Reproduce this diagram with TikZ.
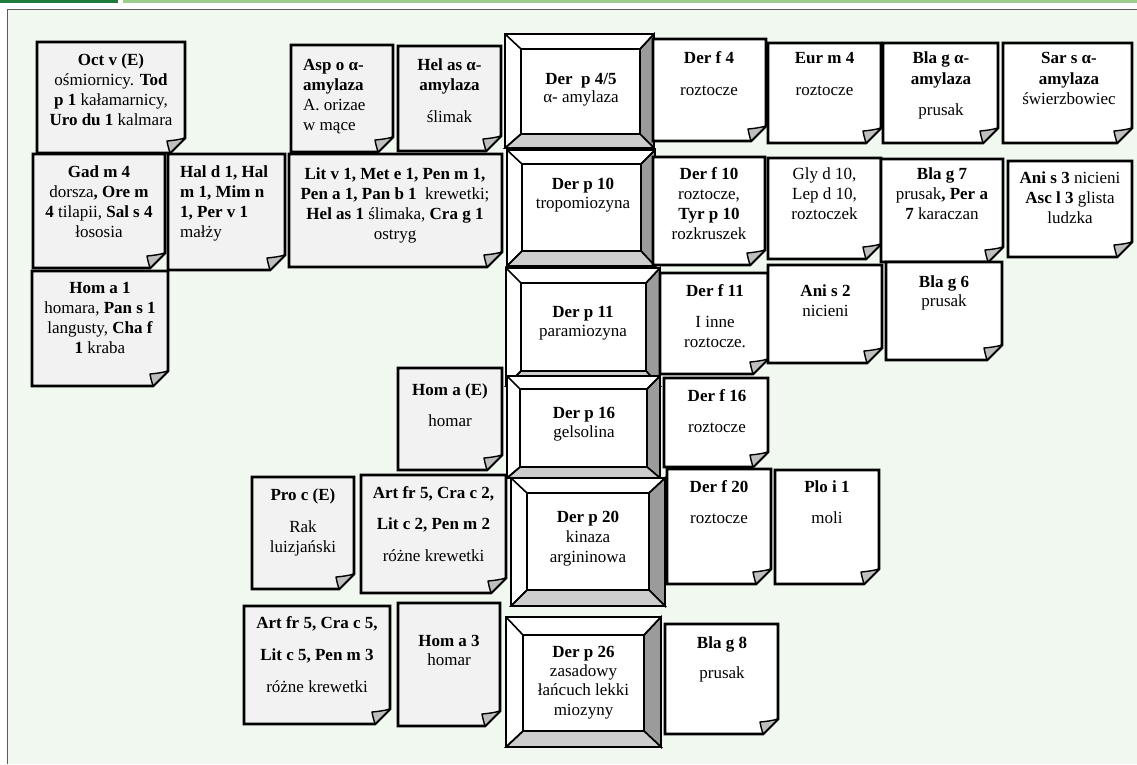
\documentclass[tikz,border=0pt]{standalone}
\usepackage{fontspec}
\setmainfont{Liberation Serif}
\definecolor{bgframe}{RGB}{241,248,240}
\definecolor{framecol}{RGB}{90,90,90}
\definecolor{hdrdark}{RGB}{30,125,60}
\definecolor{hdrlight}{RGB}{155,205,140}
\definecolor{notegray}{RGB}{242,242,242}
\definecolor{foldgray}{RGB}{190,190,190}
\definecolor{bevdark}{RGB}{155,155,155}
\definecolor{bevlight}{RGB}{205,205,205}
\newcommand{\notebox}[5]{%
  \filldraw[fill=#5, line width=2.6pt, line join=miter] (#1,#2) -- (#3,#2) -- (#3,#4-15) -- (#3-15,#4) -- (#1,#4) -- cycle;
  \filldraw[fill=foldgray, line width=1.4pt, line join=round] (#3-15,#4) .. controls (#3-16.5,#4-5) and (#3-17.5,#4-9) .. (#3-18,#4-12) .. controls (#3-12,#4-12.5) and (#3-5,#4-13.5) .. (#3,#4-15) -- cycle;
}
\newcommand{\bevelbox}[8]{%
  \fill[white] (#1,#2) rectangle (#3,#4);
  \filldraw[fill=bevdark, line width=1.6pt, line join=miter] (#3,#2) -- (#3,#4) -- (#7,#8) -- (#7,#6) -- cycle;
  \filldraw[fill=bevlight, line width=1.6pt, line join=miter] (#1,#4) -- (#3,#4) -- (#7,#8) -- (#5,#8) -- cycle;
  \draw[line width=1.6pt] (#1,#2) -- (#5,#6) (#3,#2) -- (#7,#6) (#1,#4) -- (#5,#8);
  \draw[line width=2.4pt] (#5,#6) rectangle (#7,#8);
  \draw[line width=2.8pt] (#1,#2) rectangle (#3,#4);
}
\tikzset{
  txt/.style={inner sep=0pt, align=center, anchor=north, font=\fontsize{17}{20}\selectfont},
  ltxt/.style={inner sep=0pt, align=left, anchor=north west, font=\fontsize{17}{20}\selectfont}
}
\begin{document}
\begin{tikzpicture}[x=1pt,y=-1pt]
\useasboundingbox (0,0) rectangle (1137,764);
\fill[white] (0,0) rectangle (1137,764);
\fill[hdrdark] (0,0) rectangle (118,2.5);
\fill[hdrlight] (123,0) rectangle (1137,3);
\fill[bgframe] (7,9.5) rectangle (1137,764);
\draw[framecol, line width=1pt] (7,764) -- (7,9.5) -- (1137,9.5);

% bevel boxes
\bevelbox{505}{34}{654}{148}{521}{49}{640}{134}
\bevelbox{507}{150}{655}{266}{522}{164}{641}{251}
\bevelbox{506}{268}{660}{386}{521}{283}{646}{371}
\bevelbox{507}{376}{660}{478}{520}{389}{647}{467}
\bevelbox{511}{478}{665}{606}{527}{493}{649}{590}
\bevelbox{506}{617}{661}{747}{523}{635}{644}{731}

% folded notes
\notebox{37}{42}{185}{153}{notegray}
\notebox{291}{45}{393}{152}{notegray}
\notebox{398}{46}{501}{151}{notegray}
\notebox{653}{39}{766}{141}{white}
\notebox{768}{43}{881}{143}{white}
\notebox{883}{43}{998}{143}{white}
\notebox{1003}{43}{1132}{143}{white}
\notebox{33}{154}{165}{268}{notegray}
\notebox{168}{154}{285}{270}{notegray}
\notebox{289}{154}{502}{267}{notegray}
\notebox{653}{157}{765}{265}{white}
\notebox{768}{158}{881}{259}{white}
\notebox{881}{159}{1003}{262}{white}
\notebox{1008}{161}{1132}{257}{white}
\notebox{32}{271}{168}{386}{notegray}
\notebox{660}{273}{768}{374}{white}
\notebox{768}{265}{882}{363}{white}
\notebox{886}{262}{1002}{360}{white}
\notebox{398}{368}{502}{470}{notegray}
\notebox{664}{378}{768}{467}{white}
\notebox{252}{477}{354}{589}{notegray}
\notebox{361}{475}{506}{593}{notegray}
\notebox{667}{469}{771}{584}{white}
\notebox{775}{470}{879}{584}{white}
\notebox{244}{606}{390}{724}{notegray}
\notebox{398}{603}{500}{726}{notegray}
\notebox{665}{624}{778}{734}{white}

% texts
\node[txt] (oct) at (111,51) {\strut\textbf{Oct v (E)}\\ośmiornicy. \textbf{Tod}\\\textbf{p 1} kałamarnicy,\\\textbf{Uro du 1} kalmara};
\node[ltxt] (asp) at (303,56) {\strut\textbf{Asp o α-}\\\textbf{amylaza}\\A. orizae\\w mące};
\node[txt] (hel) at (449.5,56) {\strut\textbf{Hel as α-}\\\textbf{amylaza}\\[12pt]ślimak};
\node[txt] (dp45) at (581,70) {\strut\textbf{Der\ \ p 4/5}\\[-2pt]α- amylaza};
\node[txt] (df4) at (709,49) {\strut\textbf{Der f 4}\\[12pt]roztocze};
\node[txt] (eur) at (824.5,49) {\strut\textbf{Eur m 4}\\[12pt]roztocze};
\node[txt] (blaga) at (941,49) {\strut\textbf{Bla g α-}\\[1pt]\textbf{amylaza}\\[11pt]prusak};
\node[txt] (sar) at (1069,49) {\strut\textbf{Sar s α-}\\[1pt]\textbf{amylaza}\\świerzbowiec};

\node[txt] (gad) at (99,163) {\strut\textbf{Gad m 4}\\dorsza\textbf{, Ore m}\\\textbf{4} tilapii, \textbf{Sal s 4}\\łososia};
\node[ltxt] (hal) at (180,163) {\strut\textbf{Hal d 1, Hal}\\\textbf{m 1, Mim n}\\\textbf{1, Per v 1}\\małży};
\node[txt] (lit) at (395,165) {\strut\textbf{Lit v 1, Met e 1, Pen m 1,}\\\textbf{Pen a 1, Pan b 1}\ \ krewetki;\\\textbf{Hel as 1} ślimaka, \textbf{Cra g 1}\\ostryg};
\node[txt] (dp10) at (583,175) {\strut\textbf{Der p 10}\\[-1pt]tropomiozyna};
\node[txt] (df10) at (709,165) {\strut\textbf{Der f 10}\\roztocze,\\\textbf{Tyr p 10}\\rozkruszek};
\node[txt] (gly) at (824.5,165) {\strut Gly d 10,\\Lep d 10,\\roztoczek};
\node[txt] (blag7) at (942,165) {\strut\textbf{Bla g 7}\\prusak\textbf{, Per a}\\\textbf{7} karaczan};
\node[txt] (anis3) at (1070,169) {\strut\textbf{Ani s 3} nicieni\\\textbf{Asc l 3} glista\\ludzka};

\node[txt] (homa1) at (100,279) {\strut\textbf{Hom a 1}\\homara, \textbf{Pan s 1}\\langusty, \textbf{Cha f}\\\textbf{1} kraba};
\node[txt] (dp11) at (583,303) {\strut\textbf{Der p 11}\\[-1pt]paramiozyna};
\node[txt] (df11) at (715,282) {\strut\textbf{Der f 11}\\[11pt]I inne\\roztocze.};
\node[txt] (anis2) at (825.5,282) {\strut\textbf{Ani s 2}\\nicieni};
\node[txt] (blag6) at (944,273) {\strut\textbf{Bla g 6}\\[-1pt]prusak};
\node[txt] (homaE) at (450,381) {\strut\textbf{Hom a (E)}\\[11pt]homar};
\node[txt] (dp16) at (584,404) {\strut\textbf{Der p 16}\\[-1pt]gelsolina};
\node[txt] (df16) at (717,387) {\strut\textbf{Der f 16}\\[11pt]roztocze};

\node[txt] (proc) at (303,486) {\strut\textbf{Pro c (E)}\\[12pt]Rak\\luizjański};
\node[txt] (artc2) at (433.5,484) {\strut\textbf{Art fr 5, Cra c 2,}\\[11pt]\textbf{Lit c 2, Pen m 2}\\[12pt]różne krewetki};
\node[txt] (dp20) at (588,508) {\strut\textbf{Der p 20}\\kinaza\\argininowa};
\node[txt] (df20) at (719,478) {\strut\textbf{Der f 20}\\[11pt]roztocze};
\node[txt] (ploi) at (827,478) {\strut\textbf{Plo i 1}\\[11pt]moli};
\node[txt] (artc5) at (317,614) {\strut\textbf{Art fr 5, Cra c 5,}\\[12pt]\textbf{Lit c 5, Pen m 3}\\[12pt]różne krewetki};
\node[txt] (homa3) at (449,632) {\strut\textbf{Hom a 3}\\[-1pt]homar};
\node[txt] (dp26) at (583.5,643) {\strut\textbf{Der p 26}\\[-1pt]zasadowy\\[-1pt]łańcuch lekki\\miozyny};
\node[txt] (blag8) at (722,634) {\strut\textbf{Bla g 8}\\[10pt]prusak};
\end{tikzpicture}
\end{document}
